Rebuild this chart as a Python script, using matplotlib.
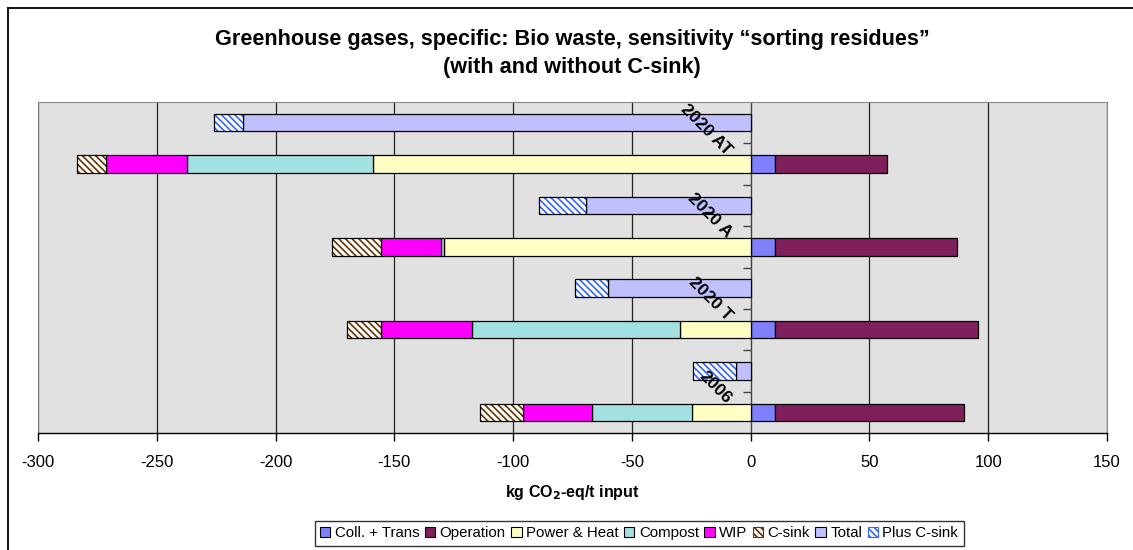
import matplotlib
matplotlib.use("Agg")
import matplotlib.pyplot as plt
from matplotlib.lines import Line2D
import numpy as np

plt.rcParams['font.family'] = ['Liberation Sans', 'DejaVu Sans']
plt.rcParams['hatch.linewidth'] = 1.2

# ---- data ----
categories = ["2020 AT", "2020 A", "2020 T", "2006"]
coll_trans = [10.3, 10.3, 10.3, 10.3]
operation = [47.3, 76.6, 85.6, 79.6]
power_heat = [-159.0, -129.3, -29.6, -24.5]
compost = [-78.1, -1.0, -87.9, -42.4]
wip = [-34.1, -25.5, -38.0, -28.8]
c_sink = [-12.5, -20.4, -14.3, -18.2]
total = [-213.7, -69.3, -59.9, -6.1]
plus_c_sink = [-12.4, -19.7, -13.9, -18.1]
x_ticks = [-300, -250, -200, -150, -100, -50, 0, 50, 100, 150]

title1 = "Greenhouse gases, specific: Bio waste, sensitivity \u201csorting residues\u201d"
title2 = "(with and without C-sink)"
xlabel = "kg CO$_\\mathbf{2}$-eq/t input"

fig = plt.figure(figsize=(11.33, 5.5), dpi=100)
ax = fig.add_axes([38/1133, 1-433/550, (1107-38)/1133, (433-102)/550])
ax.set_facecolor('#E1E1E1')

n = len(categories)
y_total = np.arange(n) * 2.0
y_comp = y_total + 1.0
h = 0.42
ec = 'black'
lw = 0.9
hatch = '\\\\\\\\\\'

# component rows (positive)
ax.barh(y_comp, coll_trans, height=h, color='#8080FF', edgecolor=ec, lw=lw, label='Coll. + Trans', zorder=3)
ax.barh(y_comp, operation, left=coll_trans, height=h, color='#7F1F5B', edgecolor=ec, lw=lw, label='Operation', zorder=3)
# component rows (negative)
left = np.zeros(n)
ax.barh(y_comp, power_heat, left=left, height=h, color='#FFFFC4', edgecolor=ec, lw=lw, label='Power & Heat', zorder=3)
left = left + np.array(power_heat)
ax.barh(y_comp, compost, left=left, height=h, color='#A3E0E0', edgecolor=ec, lw=lw, label='Compost', zorder=3)
left = left + np.array(compost)
ax.barh(y_comp, wip, left=left, height=h, color='#FF00FF', edgecolor=ec, lw=lw, label='WIP', zorder=3)
left = left + np.array(wip)
ax.barh(y_comp, c_sink, left=left, height=h, color='white', edgecolor='#663300', hatch=hatch, lw=0, label='C-sink', zorder=3)
ax.barh(y_comp, c_sink, left=left, height=h, fill=False, edgecolor=ec, lw=lw, zorder=4)

# total rows
ax.barh(y_total, total, height=h, color='#C0C0FF', edgecolor=ec, lw=lw, label='Total', zorder=3)
ax.barh(y_total, plus_c_sink, left=total, height=h, color='white', edgecolor='#3366FF', hatch=hatch, lw=0, label='Plus C-sink', zorder=3)
ax.barh(y_total, plus_c_sink, left=total, height=h, fill=False, edgecolor=ec, lw=lw, zorder=4)

ax.set_xlim(-300, 150)
ax.set_ylim(2*n - 0.5, -0.5)
ax.set_xticks(x_ticks)
ax.set_xticklabels([str(v) for v in x_ticks], fontsize=12)
ax.tick_params(axis='x', direction='out', length=6, width=1, pad=10, color='black')
ax.xaxis.grid(True, color='#222222', lw=0.9, zorder=1)
ax.set_axisbelow(True)

# y axis at x=0 with ticks between rows
ax.spines['left'].set_position(('data', 0))
ax.spines['left'].set_color('#444444')
ax.spines['left'].set_zorder(2)
ax.set_yticks(np.arange(0.5, 2*n - 1, 1.0))
ax.set_yticklabels([])
ax.tick_params(axis='y', direction='out', length=6, width=1, color='#444444')
ax.spines['top'].set_color('#888888')
ax.spines['right'].set_color('#888888')
ax.spines['bottom'].set_color('black')
ax.spines['bottom'].set_linewidth(1)
ax.axvline(-300, color='#888888', lw=1.2, zorder=2)

for i, cat in enumerate(categories):
    ax.text(-9, y_total[i] + 0.72, cat, rotation=-45, rotation_mode='anchor',
            ha='right', va='center', fontsize=12.5, fontweight='bold', zorder=5)

ax.set_xlabel(xlabel, fontsize=11.5, fontweight='bold', labelpad=9)

fig.text(572/1133, 1-40/550, title1, ha='center', va='center', fontsize=15.6, fontweight='bold')
fig.text(572/1133, 1-68/550, title2, ha='center', va='center', fontsize=15.6, fontweight='bold')

order = ['Coll. + Trans', 'Operation', 'Power & Heat', 'Compost', 'WIP', 'C-sink', 'Total', 'Plus C-sink']
handles, labels = ax.get_legend_handles_labels()
hd = dict(zip(labels, handles))
leg = fig.legend([hd[l] for l in order], order, loc='upper center',
                 bbox_to_anchor=(639/1133, 1-521/550), ncol=8, fontsize=10.8,
                 frameon=True, fancybox=False, handlelength=0.7, handleheight=0.7,
                 handletextpad=0.3, columnspacing=0.35, borderpad=0.35, borderaxespad=0)
leg.get_frame().set_edgecolor('black')
leg.get_frame().set_linewidth(1)
for p in leg.get_patches():
    p.set_linewidth(0.8)

# chart area border (left and top visible)
fig.add_artist(Line2D([7.5/1133, 7.5/1133], [0, 1-8/550], color='black', lw=1.3, transform=fig.transFigure))
fig.add_artist(Line2D([7.5/1133, 1], [1-8/550, 1-8/550], color='black', lw=1.3, transform=fig.transFigure))

fig.savefig('out.png', dpi=100, facecolor='white')
